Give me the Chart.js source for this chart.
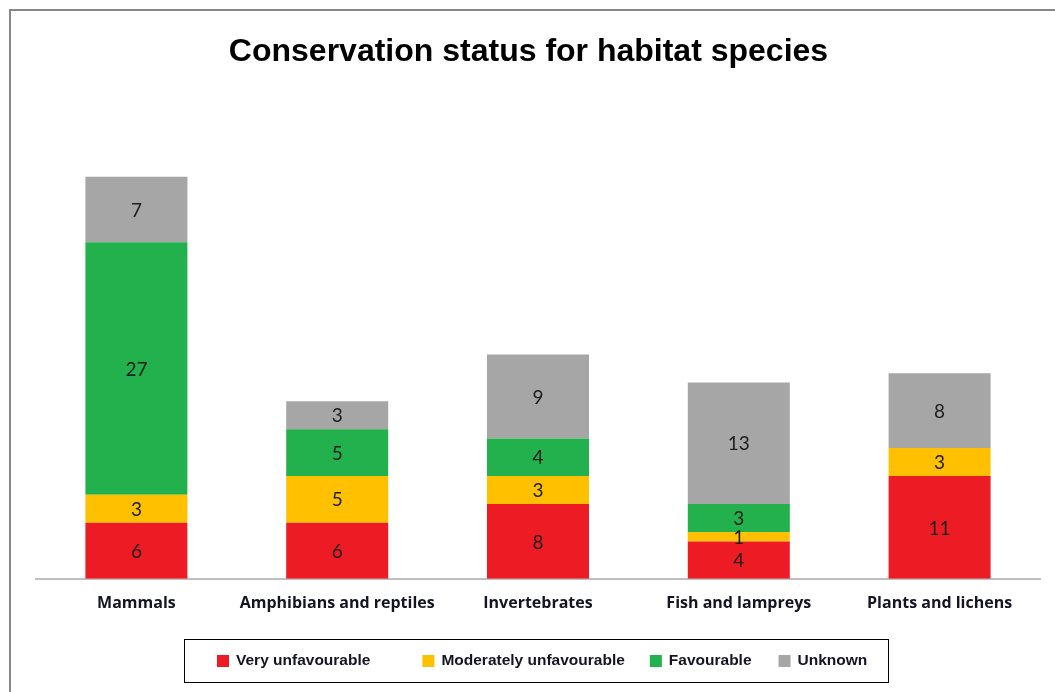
<!DOCTYPE html>
<html>
<head>
<meta charset="utf-8">
<script src="https://cdn.jsdelivr.net/npm/chart.js@4.4.1/dist/chart.umd.min.js"></script>
<style>
  html, body { margin: 0; padding: 0; background: #ffffff; }
  #wrap { width: 1055px; height: 692px; position: relative; }
</style>
</head>
<body>
<div id="wrap"><canvas id="c" width="1055" height="692"></canvas></div>
<script>
const categories = ['Mammals', 'Amphibians and reptiles', 'Invertebrates', 'Fish and lampreys', 'Plants and lichens'];
const seriesNames = ['Very unfavourable', 'Moderately unfavourable', 'Favourable', 'Unknown'];
const veryUnfavourable = [6, 6, 8, 4, 11];
const moderatelyUnfavourable = [3, 5, 3, 1, 3];
const favourable = [27, 5, 4, 3, 0];
const unknown = [7, 3, 9, 13, 8];
const titleText = 'Conservation status for habitat species';

const colors = ['#ED1C24', '#FFC000', '#22B14C', '#A6A6A6'];
const seriesValues = [veryUnfavourable, moderatelyUnfavourable, favourable, unknown];

const frame = {
  id: 'frame',
  beforeDraw(chart) {
    const ctx = chart.ctx;
    ctx.save();
    ctx.fillStyle = '#ffffff';
    ctx.fillRect(0, 0, chart.width, chart.height);
    ctx.strokeStyle = '#888888';
    ctx.lineWidth = 2;
    ctx.beginPath();
    ctx.moveTo(10, chart.height);
    ctx.lineTo(10, 10);
    ctx.lineTo(chart.width, 10);
    ctx.stroke();
    ctx.restore();
  }
};

const valueLabels = {
  id: 'valueLabels',
  afterDatasetsDraw(chart) {
    const ctx = chart.ctx;
    ctx.save();
    ctx.font = '19px Lato, "Open Sans", sans-serif';
    ctx.fillStyle = '#1e1e1e';
    ctx.textAlign = 'center';
    ctx.textBaseline = 'middle';
    chart.data.datasets.forEach((ds, i) => {
      const meta = chart.getDatasetMeta(i);
      meta.data.forEach((el, j) => {
        const v = ds.data[j];
        if (!v) return;
        const p = el.getProps(['x', 'y', 'base'], true);
        ctx.fillText(String(v), p.x, (p.y + p.base) / 2 + 1);
      });
    });
    ctx.restore();
  }
};

const boxedLegend = {
  id: 'boxedLegend',
  afterDraw(chart) {
    const ctx = chart.ctx;
    ctx.save();
    ctx.strokeStyle = '#000000';
    ctx.lineWidth = 1;
    ctx.strokeRect(184.5, 639.5, 704, 43);
    ctx.font = 'bold 15.5px "Liberation Sans", Arial, sans-serif';
    ctx.textBaseline = 'middle';
    ctx.textAlign = 'left';
    const gaps = [52, 25, 27, 0];
    let x = 217;
    const cy = 661;
    chart.data.datasets.forEach((ds, i) => {
      ctx.fillStyle = ds.backgroundColor;
      ctx.fillRect(x, cy - 6, 12, 12);
      ctx.fillStyle = '#141423';
      ctx.fillText(ds.label, x + 19, cy);
      x += 19 + ctx.measureText(ds.label).width + gaps[i];
    });
    ctx.restore();
  }
};

new Chart(document.getElementById('c'), {
  type: 'bar',
  data: {
    labels: categories,
    datasets: seriesNames.map((name, i) => ({
      label: name,
      data: seriesValues[i],
      backgroundColor: colors[i],
      borderWidth: 0,
      barPercentage: 0.508,
      categoryPercentage: 1.0
    }))
  },
  options: {
    responsive: false,
    animation: false,
    devicePixelRatio: 1,
    layout: { padding: { top: 10, left: 17, right: 15, bottom: 64 } },
    plugins: {
      legend: { display: false },
      tooltip: { enabled: false },
      title: {
        display: true,
        text: titleText,
        color: '#000000',
        font: { family: '"Liberation Sans", Arial, sans-serif', size: 32, weight: 'bold', lineHeight: 1.2 },
        padding: { top: 23, bottom: 40 }
      }
    },
    scales: {
      x: {
        stacked: true,
        grid: { display: false, drawTicks: false },
        border: { display: true, color: '#BFBFBF', width: 2 },
        ticks: {
          color: '#141423',
          padding: 15,
          maxRotation: 0,
          autoSkip: false,
          font: { family: '"Open Sans", "Noto Sans", sans-serif', size: 16, weight: 'bold', lineHeight: 1.2 }
        }
      },
      y: {
        stacked: true,
        min: 0,
        max: 50,
        grid: { display: false, drawTicks: false },
        border: { display: false },
        ticks: { display: false },
        afterFit(scale) { scale.width = 19; }
      }
    }
  },
  plugins: [frame, valueLabels, boxedLegend]
});
</script>
</body>
</html>
